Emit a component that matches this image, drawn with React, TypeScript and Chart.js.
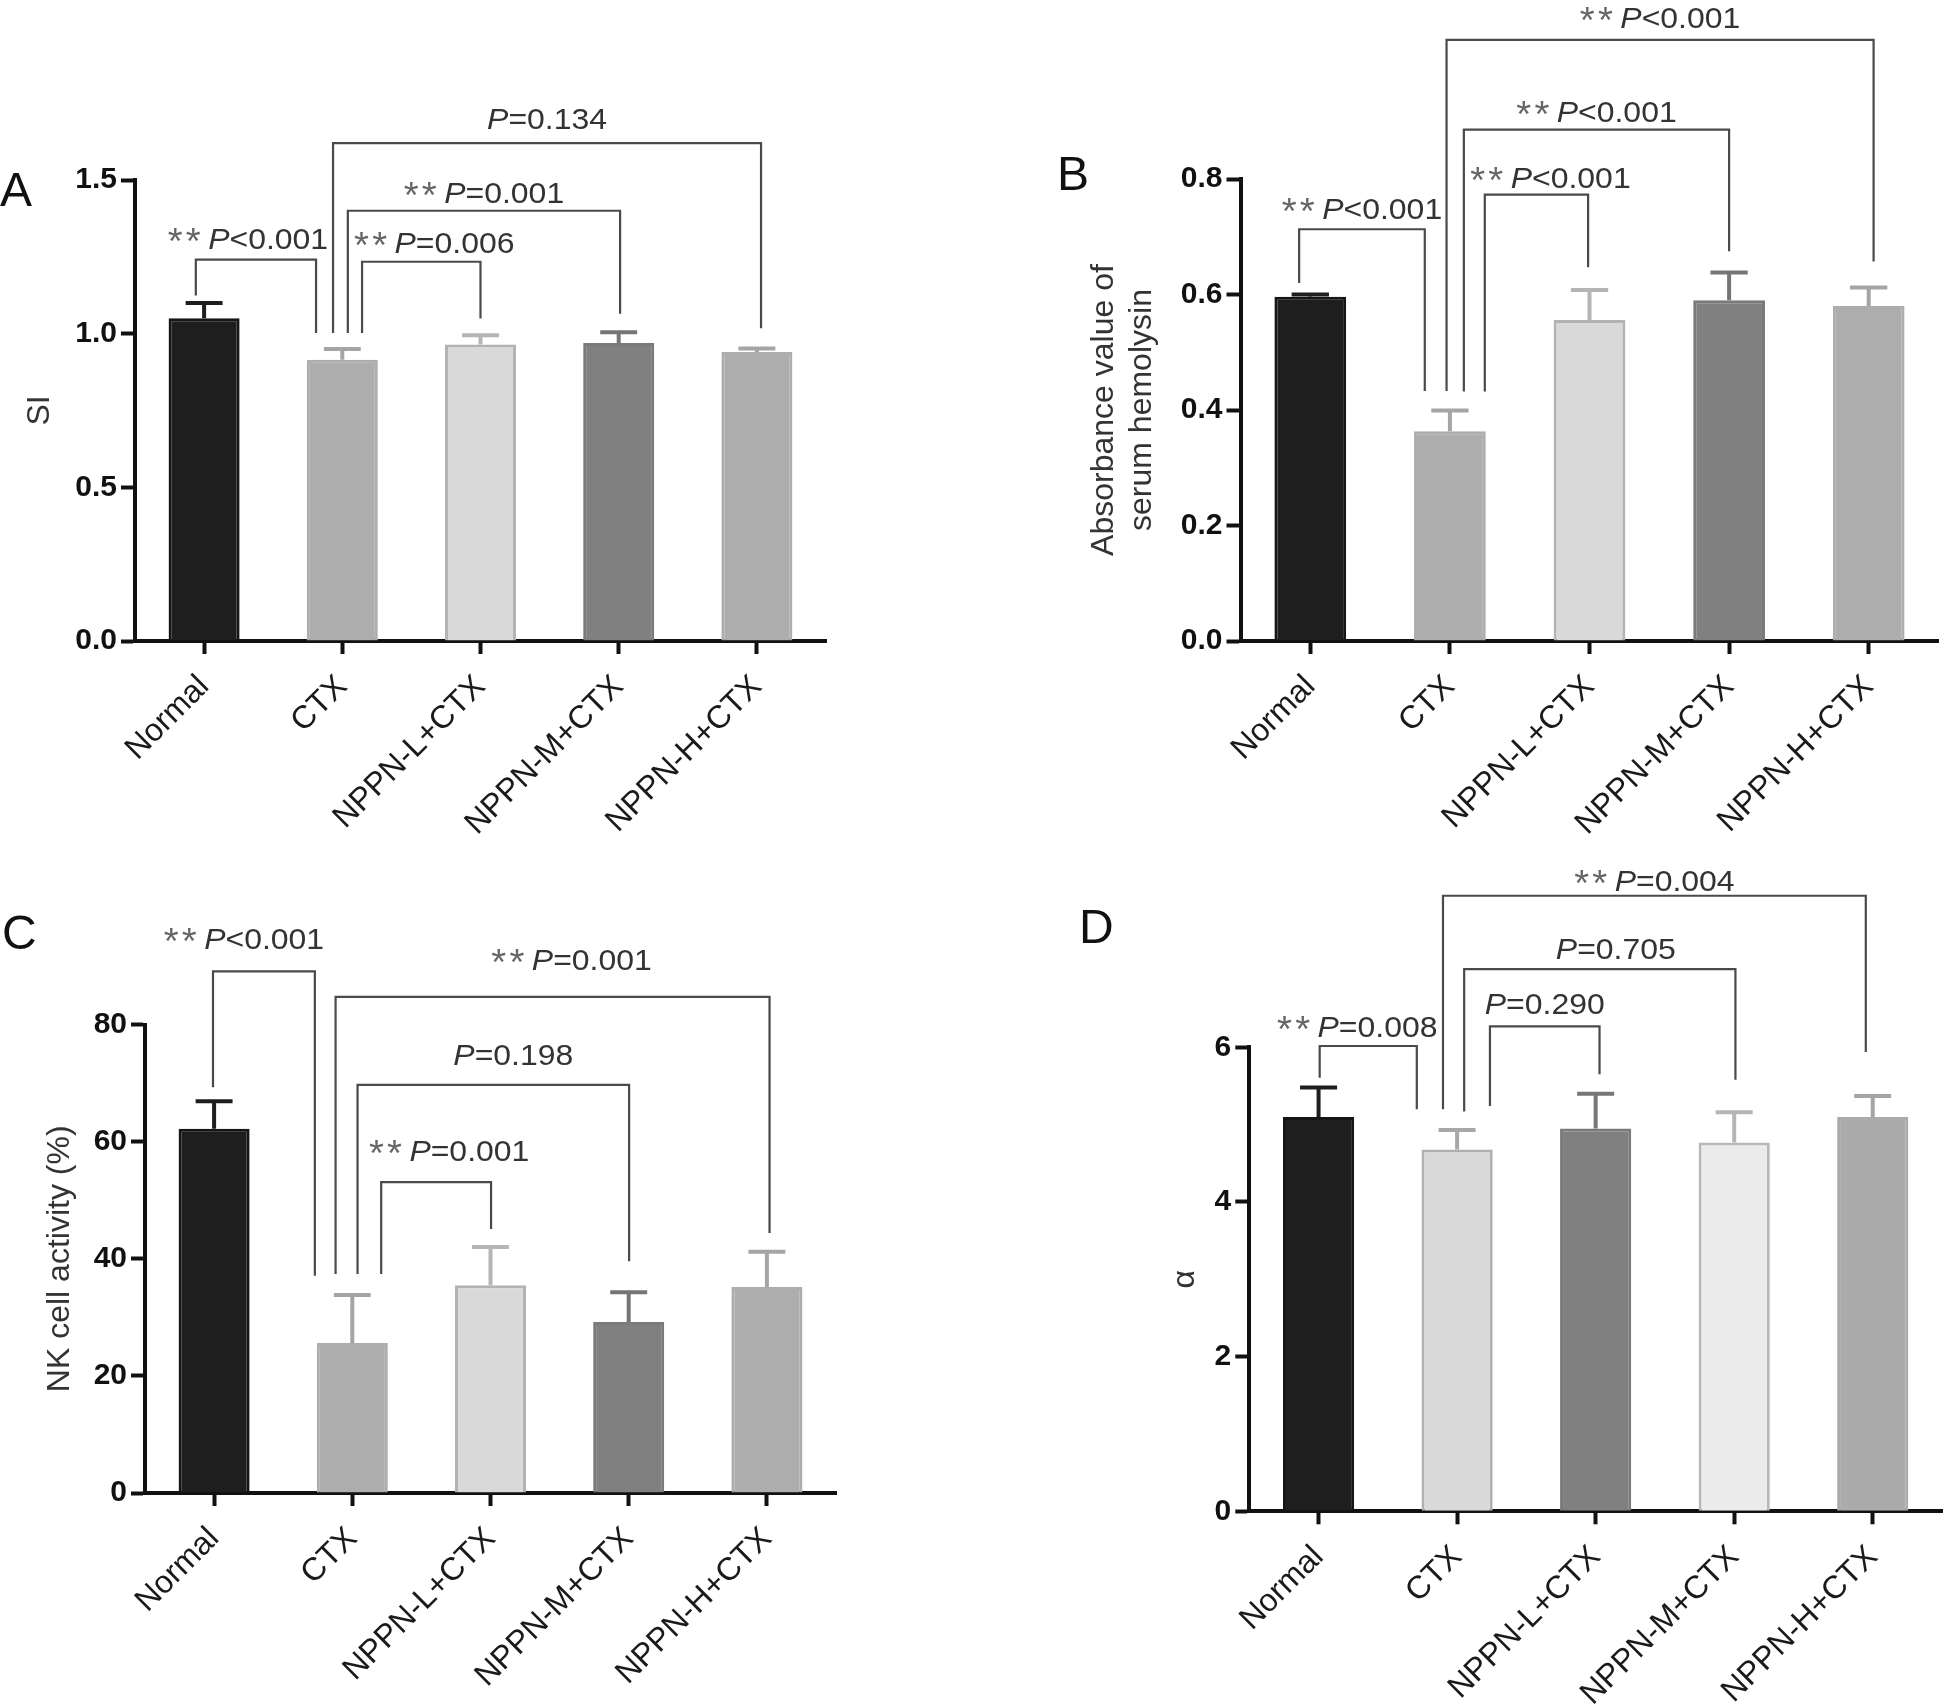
import React, { useEffect, useRef } from "react";
import { Chart, registerables } from "chart.js";

Chart.register(...registerables);

const FONT = '"Liberation Sans", Arial, Helvetica, sans-serif';
Chart.defaults.font.family = FONT;

// ---------------- data ----------------
const categories = ["Normal", "CTX", "NPPN-L+CTX", "NPPN-M+CTX", "NPPN-H+CTX"];

// Panel A: spleen index
const siMean = [1.05, 0.915, 0.965, 0.97, 0.94];
const siError = [0.05, 0.035, 0.03, 0.035, 0.012];
const siTicks = [0, 0.5, 1.0, 1.5];
const siBrackets = [
  { from: -0.06, to: 0.81, top: 1.241, leftEnd: 1.124, rightEnd: 1.002, stars: "**", p: "<0.001" },
  { from: 1.143, to: 2.0, top: 1.234, leftEnd: 1.002, rightEnd: 1.049, stars: "**", p: "=0.006" },
  { from: 1.04, to: 3.01, top: 1.4, leftEnd: 1.002, rightEnd: 1.065, stars: "**", p: "=0.001" },
  { from: 0.933, to: 4.03, top: 1.62, leftEnd: 1.002, rightEnd: 1.018, stars: "", p: "=0.134" },
];

// Panel B: serum hemolysin
const hemolysinMean = [0.596, 0.363, 0.556, 0.59, 0.58];
const hemolysinError = [0.004, 0.036, 0.052, 0.048, 0.032];
const hemolysinTicks = [0, 0.2, 0.4, 0.6, 0.8];
const hemolysinBrackets = [
  { from: -0.08, to: 0.82, top: 0.713, leftEnd: 0.62, rightEnd: 0.433, stars: "**", p: "<0.001" },
  { from: 1.25, to: 1.99, top: 0.773, leftEnd: 0.432, rightEnd: 0.647, stars: "**", p: "<0.001" },
  { from: 1.1, to: 3.0, top: 0.8855, leftEnd: 0.432, rightEnd: 0.675, stars: "**", p: "<0.001" },
  { from: 0.976, to: 4.035, top: 1.041, leftEnd: 0.433, rightEnd: 0.657, stars: "**", p: "<0.001" },
];

// Panel C: NK cell activity
const nkMean = [62.2, 25.6, 35.5, 29.2, 35.2];
const nkError = [4.7, 8.2, 6.5, 5.1, 6.0];
const nkTicks = [0, 20, 40, 60, 80];
const nkBrackets = [
  { from: -0.008, to: 0.729, top: 89.1, leftEnd: 69.3, rightEnd: 37.1, stars: "**", p: "<0.001" },
  { from: 1.209, to: 2.004, top: 53.1, leftEnd: 37.4, rightEnd: 45.1, stars: "**", p: "=0.001" },
  { from: 1.038, to: 3.003, top: 69.7, leftEnd: 37.4, rightEnd: 39.6, stars: "", p: "=0.198" },
  { from: 0.879, to: 4.019, top: 84.75, leftEnd: 37.4, rightEnd: 44.4, stars: "**", p: "=0.001" },
];

// Panel D: alpha
const alphaMean = [5.1, 4.68, 4.95, 4.77, 5.1];
const alphaError = [0.38, 0.25, 0.45, 0.39, 0.27];
const alphaTicks = [0, 2, 4, 6];
const alphaBrackets = [
  { from: 0.008, to: 0.709, top: 6.017, leftEnd: 5.607, rightEnd: 5.199, stars: "**", p: "=0.008" },
  { from: 1.237, to: 2.028, top: 6.27, leftEnd: 5.24, rightEnd: 5.65, stars: "", p: "=0.290" },
  { from: 1.051, to: 3.009, top: 7.01, leftEnd: 5.17, rightEnd: 5.58, stars: "", p: "=0.705" },
  { from: 0.898, to: 3.95, top: 7.96, leftEnd: 5.2, rightEnd: 5.94, stars: "**", p: "=0.004" },
];

// ---------------- styles / layout ----------------
const PALETTE_ABC = {
  fill: ["#1e1e1e", "#adadad", "#d9d9d9", "#808080", "#adadad"],
  border: ["#151515", "#adadad", "#b3b3b3", "#7a7a7a", "#adadad"],
  error: ["#1e1e1e", "#a5a5a5", "#b5b5b5", "#757575", "#a5a5a5"],
};
const PALETTE_D = {
  fill: ["#1e1e1e", "#d9d9d9", "#808080", "#ebebeb", "#ababab"],
  border: ["#151515", "#b0b0b0", "#7a7a7a", "#b8b8b8", "#ababab"],
  error: ["#1e1e1e", "#a8a8a8", "#777777", "#b5b5b5", "#a5a5a5"],
};

const CANVAS_W = 973;
const CANVAS_H = 854;
const X_AXIS_H = 200;
const TEXT_STRETCH = 1.065;

type Bracket = { from: number; to: number; top: number; leftEnd: number; rightEnd: number; stars: string; p: string };

type PanelCfg = {
  letter: string;
  mean: number[];
  error: number[];
  ticks: number[];
  decimals: number;
  title: string | string[];
  brackets: Bracket[];
  labelOffsets: number[][]; // [dx, gap above bracket]
  palette: typeof PALETTE_ABC;
  canvas: { left: number; top: number };
  area: { left: number; top: number; right: number; bottom: number };
  letterPos: { x: number; y: number };
  titleCenter: number;
};

const panels: PanelCfg[] = [
  {
    letter: "A",
    mean: siMean,
    error: siError,
    ticks: siTicks,
    decimals: 1,
    title: "SI",
    brackets: siBrackets,
    labelOffsets: [[-8, 11], [13, 9], [0, 8], [0, 14]],
    palette: PALETTE_ABC,
    canvas: { left: 0, top: 0 },
    area: { left: 135, top: 180, right: 826, bottom: 641 },
    letterPos: { x: 0, y: 206 },
    titleCenter: 40,
  },
  {
    letter: "B",
    mean: hemolysinMean,
    error: hemolysinError,
    ticks: hemolysinTicks,
    decimals: 1,
    title: ["Absorbance value of", "serum hemolysin"],
    brackets: hemolysinBrackets,
    labelOffsets: [[0, 10], [14, 7], [0, 8], [0, 12]],
    palette: PALETTE_ABC,
    canvas: { left: 973, top: 0 },
    area: { left: 267.5, top: 179, right: 965.5, bottom: 641 },
    letterPos: { x: 84, y: 190 },
    titleCenter: 131,
  },
  {
    letter: "C",
    mean: nkMean,
    error: nkError,
    ticks: nkTicks,
    decimals: 0,
    title: "NK cell activity (%)",
    brackets: nkBrackets,
    labelOffsets: [[-20, 22], [13, 21], [20, 20], [19, 27]],
    palette: PALETTE_ABC,
    canvas: { left: 0, top: 854 },
    area: { left: 145, top: 170.6, right: 836, bottom: 639 },
    letterPos: { x: 2, y: 95 },
    titleCenter: 60,
  },
  {
    letter: "D",
    mean: alphaMean,
    error: alphaError,
    ticks: alphaTicks,
    decimals: 0,
    title: "α",
    brackets: alphaBrackets,
    labelOffsets: [[-11, 9], [0, 12], [16, 10], [0, 5]],
    palette: PALETTE_D,
    canvas: { left: 973, top: 854 },
    area: { left: 276.3, top: 193.3, right: 969, bottom: 657.3 },
    letterPos: { x: 106, y: 89 },
    titleCenter: 212,
  },
];

function drawPLabel(ctx: CanvasRenderingContext2D, cx: number, baseline: number, stars: string, rest: string) {
  const size = 30;
  const regular = `${size}px ${FONT}`;
  const starFont = `36px ${FONT}`;
  const italic = `italic ${size}px ${FONT}`;
  const starAdvance = 17;
  const starGap = 4;
  const starsW = stars.length ? stars.length * starAdvance + starGap : 0;
  ctx.font = italic;
  const pW = ctx.measureText("P").width;
  ctx.font = regular;
  const restW = ctx.measureText(rest).width;
  const total = starsW + pW + restW;
  ctx.save();
  ctx.translate(cx, baseline);
  ctx.scale(TEXT_STRETCH, 1);
  ctx.textBaseline = "alphabetic";
  ctx.textAlign = "left";
  let x = -total / 2;
  ctx.font = starFont;
  ctx.fillStyle = "#666666";
  for (let i = 0; i < stars.length; i++) {
    ctx.fillText(stars[i], x + i * starAdvance, 5);
  }
  x += starsW;
  ctx.fillStyle = "#333";
  ctx.font = italic;
  ctx.fillText("P", x, 0);
  x += pW;
  ctx.font = regular;
  ctx.fillText(rest, x, 0);
  ctx.restore();
}

function makeAnnotationPlugin(cfg: PanelCfg) {
  return {
    id: "annotations" + cfg.letter,
    afterDatasetsDraw(chart: any) {
      const ctx: CanvasRenderingContext2D = chart.ctx;
      const y = chart.scales.y;
      const meta = chart.getDatasetMeta(0);
      ctx.save();
      ctx.lineWidth = 4;
      ctx.lineCap = "butt";
      meta.data.forEach((bar: any, i: number) => {
        const top = y.getPixelForValue(cfg.mean[i] + cfg.error[i]);
        const half = bar.width * 0.26;
        ctx.strokeStyle = cfg.palette.error[i];
        ctx.beginPath();
        ctx.moveTo(bar.x, bar.y);
        ctx.lineTo(bar.x, top);
        ctx.moveTo(bar.x - half, top);
        ctx.lineTo(bar.x + half, top);
        ctx.stroke();
      });
      ctx.restore();
    },
    afterDraw(chart: any) {
      const ctx: CanvasRenderingContext2D = chart.ctx;
      const xs = chart.scales.x;
      const ys = chart.scales.y;
      ctx.save();
      ctx.strokeStyle = "#4a4a4a";
      ctx.lineWidth = 2.2;
      cfg.brackets.forEach((b, k) => {
        const x1 = xs.getPixelForValue(b.from);
        const x2 = xs.getPixelForValue(b.to);
        const yt = ys.getPixelForValue(b.top);
        const y1 = ys.getPixelForValue(b.leftEnd);
        const y2 = ys.getPixelForValue(b.rightEnd);
        ctx.beginPath();
        ctx.moveTo(x1, y1);
        ctx.lineTo(x1, yt);
        ctx.lineTo(x2, yt);
        ctx.lineTo(x2, y2);
        ctx.stroke();
        const [dx, gap] = cfg.labelOffsets[k];
        drawPLabel(ctx, (x1 + x2) / 2 + dx, yt - gap, b.stars, b.p);
      });
      ctx.fillStyle = "#111";
      ctx.font = `48px ${FONT}`;
      ctx.textAlign = "left";
      ctx.textBaseline = "alphabetic";
      ctx.fillText(cfg.letter, cfg.letterPos.x, cfg.letterPos.y);
      ctx.restore();
    },
  };
}

function Panel({ cfg }: { cfg: PanelCfg }) {
  const ref = useRef<HTMLCanvasElement>(null);
  useEffect(() => {
    const a = cfg.area;
    const chart = new Chart(ref.current as HTMLCanvasElement, {
      type: "bar",
      data: {
        labels: categories,
        datasets: [
          {
            data: cfg.mean,
            backgroundColor: cfg.palette.fill,
            borderColor: cfg.palette.border,
            borderWidth: 3,
            barPercentage: 0.514,
            categoryPercentage: 1.0,
          },
        ],
      },
      options: {
        responsive: false,
        animation: false,
        devicePixelRatio: 1,
        layout: {
          padding: {
            left: 0,
            top: a.top,
            right: CANVAS_W - a.right,
            bottom: CANVAS_H - a.bottom - X_AXIS_H,
          },
        },
        plugins: { legend: { display: false }, tooltip: { enabled: false } },
        scales: {
          x: {
            type: "category",
            offset: true,
            afterFit: (s: any) => {
              s.height = X_AXIS_H;
            },
            grid: {
              display: true,
              drawOnChartArea: false,
              drawTicks: true,
              tickLength: 13,
              tickWidth: 4,
              tickColor: "#111",
              offset: false,
            },
            border: { display: true, width: 4, color: "#111" },
            ticks: {
              autoSkip: false,
              maxRotation: 45,
              minRotation: 45,
              padding: 14,
              color: "#1a1a1a",
              font: { size: 32, family: FONT },
            },
          },
          y: {
            type: "linear",
            min: cfg.ticks[0],
            max: cfg.ticks[cfg.ticks.length - 1],
            afterFit: (s: any) => {
              s.width = a.left;
            },
            afterBuildTicks: (s: any) => {
              s.ticks = cfg.ticks.map((v) => ({ value: v }));
            },
            grid: {
              display: true,
              drawOnChartArea: false,
              drawTicks: true,
              tickLength: 14,
              tickWidth: 4,
              tickColor: "#111",
            },
            border: { display: true, width: 4, color: "#111" },
            ticks: {
              padding: 4,
              color: "#111",
              font: { size: 30, weight: "bold", family: FONT },
              callback: (v: any) => Number(v).toFixed(cfg.decimals),
            },
            title: {
              display: true,
              text: cfg.title,
              color: "#333",
              font: { size: 32, family: FONT, lineHeight: 1.2 },
              padding: { top: cfg.titleCenter - 19.2, bottom: 0 },
            },
          },
        },
      } as any,
      plugins: [makeAnnotationPlugin(cfg)],
    });
    return () => chart.destroy();
  }, [cfg]);
  return (
    <canvas
      ref={ref}
      width={CANVAS_W}
      height={CANVAS_H}
      style={{
        position: "absolute",
        left: cfg.canvas.left,
        top: cfg.canvas.top,
        width: CANVAS_W,
        height: CANVAS_H,
      }}
    />
  );
}

export default function App() {
  return (
    <div
      style={{
        position: "absolute",
        left: 0,
        top: 0,
        width: 1946,
        height: 1708,
        background: "#ffffff",
        overflow: "hidden",
      }}
    >
      {panels.map((p) => (
        <Panel key={p.letter} cfg={p} />
      ))}
    </div>
  );
}
